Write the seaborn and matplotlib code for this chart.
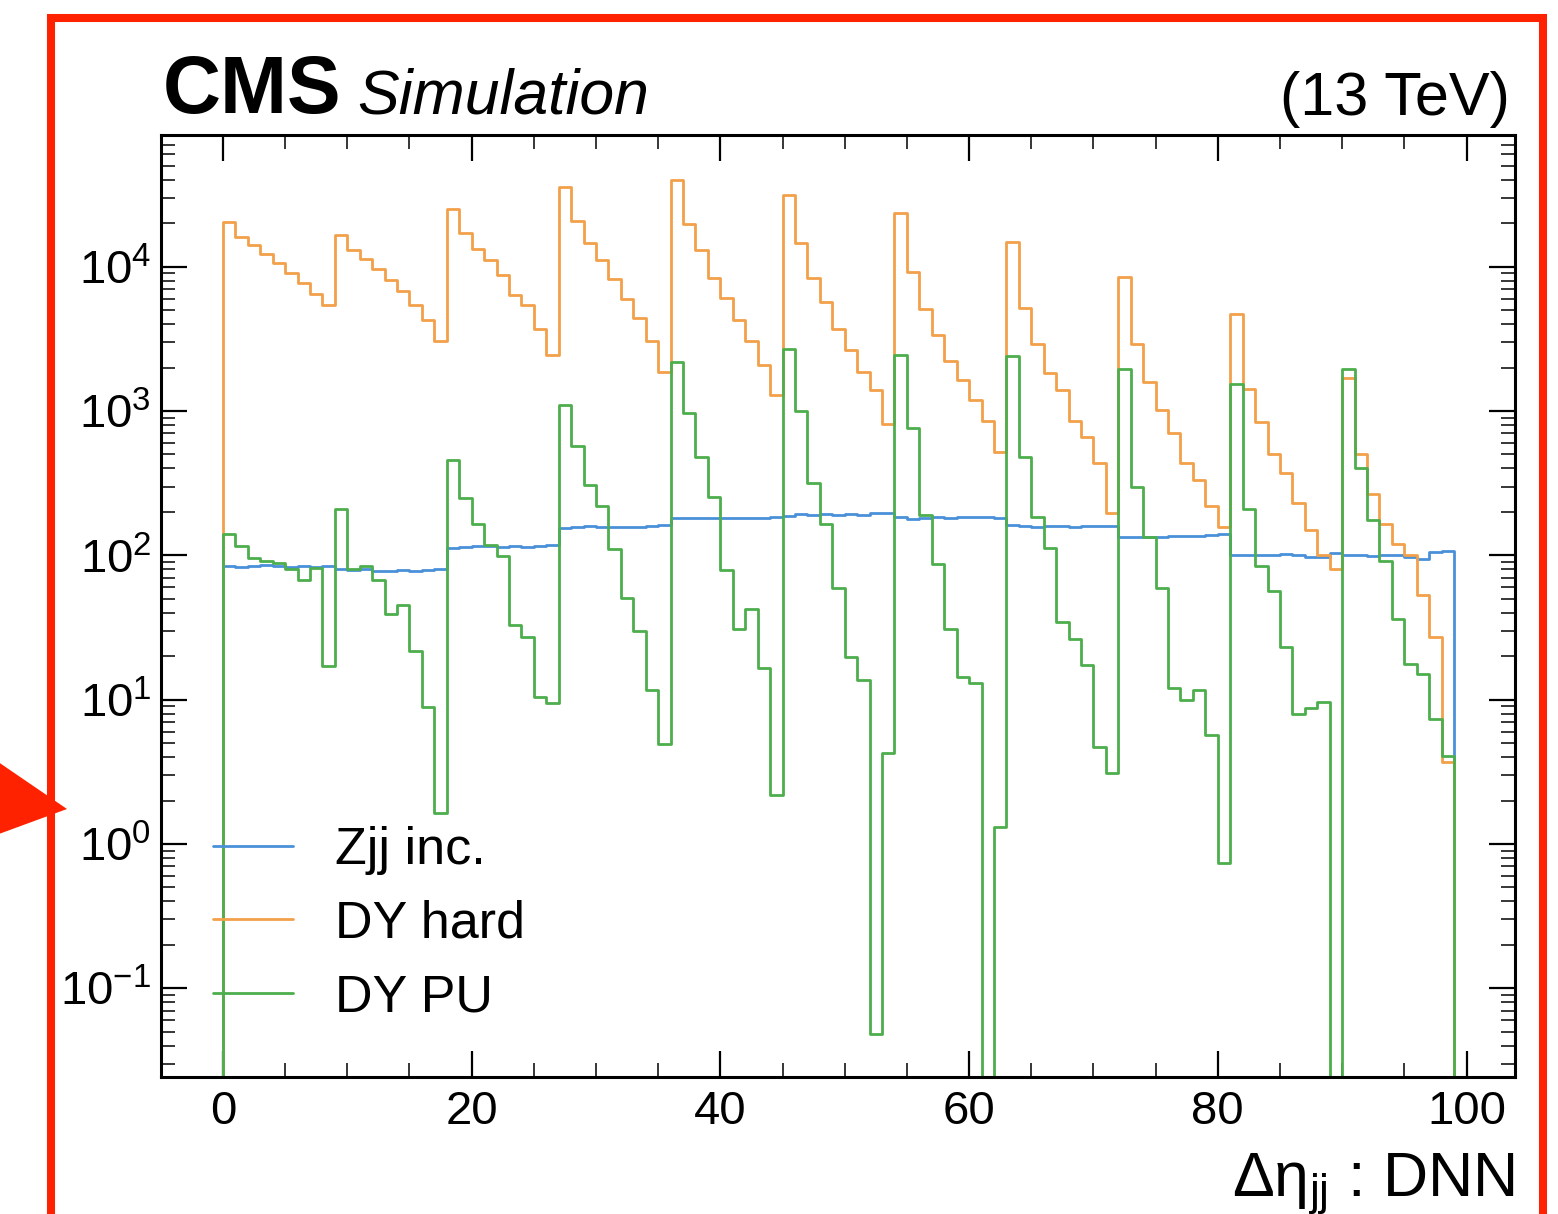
import numpy as np
import pandas as pd
import matplotlib
matplotlib.use("Agg")
import matplotlib.pyplot as plt
import seaborn as sns
from matplotlib.ticker import MultipleLocator, LogLocator, NullFormatter
from matplotlib.patches import Rectangle, Polygon

# ---------------- data (99 unit-width bins from 0 to 99) ----------------
bin_lo = 0
bin_hi = 99

zjj_inc = [
    85, 83, 84, 86, 84, 83, 84, 83, 84,
    80, 79, 80, 78, 78, 79, 78, 79, 80,
    113, 115, 117, 116, 115, 116, 114, 117, 118,
    155, 158, 160, 157, 158, 156, 157, 159, 162,
    182, 181, 182, 181, 182, 181, 182, 181, 183,
    188, 192, 190, 194, 190, 192, 190, 195, 198,
    183, 180, 182, 184, 182, 183, 185, 183, 182,
    162, 160, 158, 161, 160, 158, 160, 161, 160,
    133, 134, 135, 134, 136, 137, 136, 138, 140,
    100, 101, 100, 101, 102, 100, 97, 97, 104,
    100, 100, 99, 101, 100, 98, 95, 105, 107,
]

dy_hard = [
    20400, 15960, 14200, 12270, 10600, 9080, 7690, 6510, 5470,
    16700, 13100, 11350, 9620, 8070, 6780, 5470, 4290, 3050,
    25300, 17000, 13250, 11100, 8700, 6400, 5400, 3700, 2430,
    35700, 20700, 14700, 11100, 8200, 6000, 4400, 3060, 1860,
    39800, 19900, 13100, 8300, 6030, 4290, 3050, 2100, 1295,
    31500, 14500, 8300, 5740, 3700, 2630, 1870, 1400, 818,
    23600, 9160, 5110, 3360, 2210, 1650, 1190, 860, 518,
    14900, 5210, 2900, 1840, 1400, 860, 661, 435, 195,
    8470, 2900, 1585, 1014, 707, 435, 334, 220, 156,
    4720, 1425, 843, 502, 375, 231, 149, 101, 81,
    1700, 502, 267, 164, 120, 101, 53, 27, 3.7,
]

dy_pu = [
    140, 116, 96, 92, 89, 80, 67, 82, 17,
    211, 80, 84, 67, 39, 45, 21.7, 8.9, 1.63,
    460, 251, 165, 118, 99, 33, 27, 10.4, 9.5,
    1100, 570, 309, 220, 111, 51, 30, 11.6, 4.9,
    2170, 966, 479, 254, 79, 30.7, 42.8, 16.6, 2.2,
    2710, 993, 319, 164, 59, 19.6, 13.7, 0.048, 4.26,
    2450, 757, 190, 87, 30.7, 14.4, 13, 0, 1.32,
    2390, 479, 184, 113, 34.5, 26.3, 17.5, 4.7, 3.1,
    1970, 300, 135, 59, 12, 10, 11.6, 5.7, 0.74,
    1540, 209, 85, 57, 23, 7.9, 8.8, 9.7, 0,
    1970, 402, 177, 91, 36, 17.8, 15, 7.4, 4.1,
]

series_labels = ["Zjj inc.", "DY hard", "DY PU"]
series_colors = ["#4a90d9", "#f2a04a", "#4cae4c"]

# ---------------- style ----------------
sns.set_style("ticks")
plt.rcParams["font.family"] = ["Liberation Sans", "DejaVu Sans"]
plt.rcParams["mathtext.fontset"] = "custom"
plt.rcParams["mathtext.rm"] = "Liberation Sans"
plt.rcParams["mathtext.it"] = "Liberation Sans:italic"
plt.rcParams["mathtext.bf"] = "Liberation Sans:bold"
plt.rcParams["axes.unicode_minus"] = True
for key in ["text.color", "axes.labelcolor", "xtick.color", "ytick.color", "axes.edgecolor"]:
    plt.rcParams[key] = "black"

W, H = 1558, 1214
fig = plt.figure(figsize=(W / 100, H / 100), dpi=100)
fig.patch.set_facecolor("white")

def fx(px):
    return px / W

def fy(py):
    return 1 - py / H

ax = fig.add_axes([fx(161), fy(1077), fx(1515) - fx(161), fy(135) - fy(1077)])
ax.set_facecolor("white")

# padded edges so that the step outline drops to the baseline at both ends
edges = [float(e) for e in np.arange(bin_lo - 1, bin_hi + 2)]
centers = np.arange(bin_lo - 1, bin_hi + 1) + 0.5
for vals, lab, col in zip([zjj_inc, dy_hard, dy_pu], series_labels, series_colors):
    w = np.concatenate([[0.0], np.asarray(vals, float), [0.0]])
    df = pd.DataFrame({"x": centers, "w": w})
    sns.histplot(data=df, x="x", weights="w", bins=edges, element="step",
                 fill=False, color=col, linewidth=2.0, label=lab, ax=ax)

ax.set_yscale("log")
ax.set_xlim(-4.98, 103.9)
ax.set_ylim(10 ** -1.615, 10 ** 4.913)
ax.set_ylabel("")

ax.xaxis.set_major_locator(MultipleLocator(20))
ax.xaxis.set_minor_locator(MultipleLocator(5))
ax.yaxis.set_major_locator(LogLocator(base=10, numticks=20))
ax.yaxis.set_minor_locator(LogLocator(base=10, subs=np.arange(2, 10), numticks=20))
ax.yaxis.set_minor_formatter(NullFormatter())

ax.tick_params(which="both", direction="in", top=True, right=True, colors="black")
ax.tick_params(which="major", length=19, width=1.6, labelsize=34)
ax.tick_params(which="minor", length=10, width=1.1)
ax.tick_params(axis="x", which="major", pad=9)
ax.tick_params(axis="y", which="major", pad=7)
for s in ax.spines.values():
    s.set_linewidth(2.2)
    s.set_color("black")

ax.set_xlabel("Δη$_{\\mathrm{jj}}$ : DNN", fontsize=45, loc="right")
ax.xaxis.set_label_coords(1.0, -(1196 - 1077) / (1077 - 135))
ax.xaxis.label.set_va("baseline")

leg = ax.legend(loc="lower left", bbox_to_anchor=((213 - 161) / 1354, 55 / 942),
                frameon=False, fontsize=37.5, handlelength=1.54, handletextpad=0.81,
                labelspacing=0.47, borderpad=0, borderaxespad=0)
for line in leg.get_lines():
    line.set_linewidth(2.0)
for t in leg.get_texts():
    t.set_color("black")

# header
fig.text(fx(163), fy(113), "CMS", fontsize=58, fontweight="bold", va="baseline", ha="left")
fig.text(fx(357), fy(113), "Simulation", fontsize=45, fontstyle="italic", va="baseline", ha="left")
fig.text(fx(1510), fy(115), "(13 TeV)", fontsize=44, va="baseline", ha="right")

# red annotation frame and arrow of the screenshot
red = "#ff2200"
fig.patches.append(Rectangle((fx(51), fy(1240)), fx(1543) - fx(51), fy(18) - fy(1240),
                             fill=False, edgecolor=red, linewidth=5.8,
                             transform=fig.transFigure, figure=fig))
fig.patches.append(Polygon([(fx(-12), fy(755)), (fx(67), fy(809)), (fx(-12), fy(838))],
                           closed=True, facecolor=red, edgecolor="none",
                           transform=fig.transFigure, figure=fig))

fig.savefig("out.png", dpi=100, facecolor="white")
